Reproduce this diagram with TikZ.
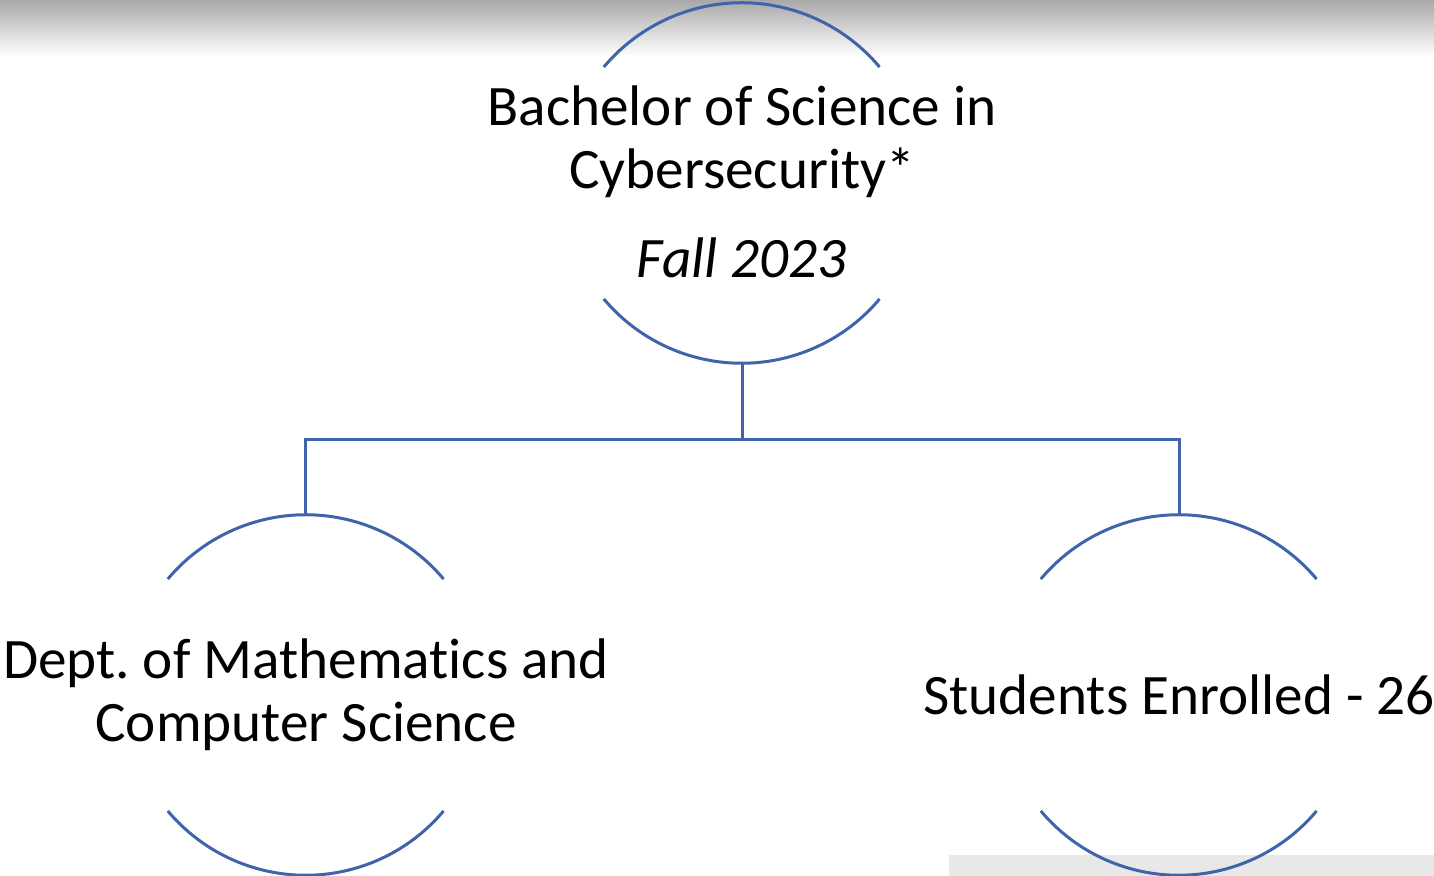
\documentclass[tikz,border=0pt]{standalone}
\usepackage{fontspec}
\setmainfont{Carlito}[Ligatures=NoCommon]
\frenchspacing
\definecolor{ringblue}{HTML}{3F64A9}

\begin{document}
\begin{tikzpicture}[
    ring/.style={circle, minimum size=180pt, inner sep=0pt},
    caption/.style={font=\fontsize{28.6}{31.5}\selectfont, align=center},
    arcline/.style={draw=ringblue, line width=1.5pt},
    line/.style={draw=ringblue, line width=1.5pt},
    node distance=256pt
  ]
    \useasboundingbox (-371pt,-346.5pt) rectangle (346pt,91.5pt);
    \shade [top color=gray!68, bottom color=white] (-371pt,63.5pt) rectangle (346pt,91.5pt);
    \fill [gray!18] (103.5pt,-336pt) rectangle (346pt,-346.5pt);

    \node [ring, label={[caption, yshift=0.5pt]center:{Bachelor of Science in\\Cybersecurity*\\[13pt]\textit{Fall 2023}}}] (degree) {};
    \node [ring, below of=degree, xshift=-218pt, label={[caption]center:{Dept. of Mathematics and\\Computer Science}}] (dept) {};
    \node [ring, below of=degree, xshift=218.5pt, label={[caption]center:{Students Enrolled - 26}}] (enrolled) {};

    \draw [arcline] (degree.140) arc[start angle=140, end angle=40, radius=90pt];
    \draw [arcline] (degree.220) arc[start angle=220, end angle=320, radius=90pt];
    \draw [arcline] (dept.140) arc[start angle=140, end angle=40, radius=90pt];
    \draw [arcline] (dept.220) arc[start angle=220, end angle=320, radius=90pt];
    \draw [arcline] (enrolled.140) arc[start angle=140, end angle=40, radius=90pt];
    \draw [arcline] (enrolled.220) arc[start angle=220, end angle=320, radius=90pt];

    \path [line] (degree.south) -- ++(0,-38pt) coordinate (split);
    \path [line] (dept.north) |- (split) -| (enrolled.north);
\end{tikzpicture}
\end{document}
